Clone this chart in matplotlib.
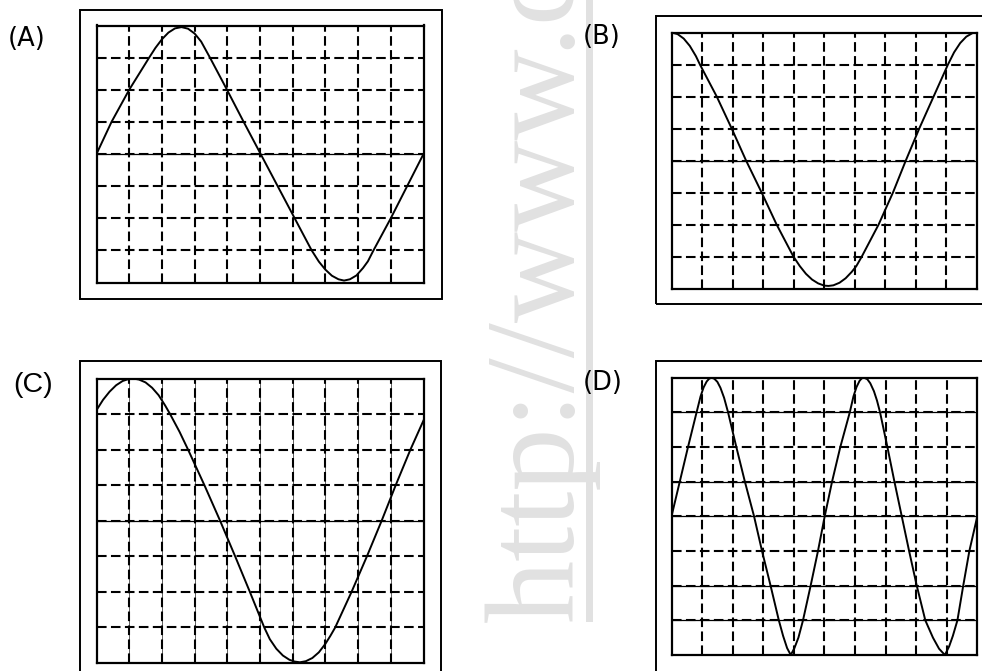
import matplotlib

matplotlib.use("Agg")
import matplotlib.pyplot as plt
from matplotlib.patches import Rectangle

W, H = 982, 671

a_x = [0, 0.46, 1.0, 1.61, 1.8, 2.0, 2.2, 2.4, 2.6, 2.8, 3.0, 3.2, 3.47, 3.99, 4.5, 5.02,
       5.54, 6.06, 6.58, 6.8, 7.0, 7.2, 7.4, 7.57, 7.75, 7.95, 8.15, 8.3, 8.47, 9.0,
       9.5, 10]
a_y = [0, 1, 2, 3, 3.30, 3.57, 3.78, 3.91, 3.95, 3.90, 3.75, 3.50, 3.0, 2, 1, 0,
       -1, -2, -3, -3.35, -3.6, -3.79, -3.9, -3.94, -3.9, -3.78, -3.55, -3.34, -3.0, -2,
       -1, 0]

b_x = [0, 0.2, 0.4, 0.6, 0.8, 0.93, 1.48, 1.97, 2.44, 2.95, 3.44, 3.99, 4.2, 4.4, 4.6,
       4.8, 5.0, 5.14, 5.3, 5.5, 5.7, 5.9, 6.05, 6.23, 6.78, 7.25, 7.67, 8.11, 8.58, 9.05,
       9.25, 9.45, 9.65, 9.85, 10]
b_y = [4, 3.95, 3.81, 3.58, 3.26, 3, 2, 1, 0, -1, -2, -3, -3.30, -3.54, -3.72,
       -3.84, -3.91, -3.92, -3.90, -3.82, -3.68, -3.48, -3.30, -3, -2, -1, 0, 1, 2, 3,
       3.38, 3.67, 3.87, 3.98, 4]

c_x = [0, 0.2, 0.4, 0.6, 0.8, 1.0, 1.12, 1.3, 1.5, 1.7, 1.9, 2.1, 2.25, 2.54, 2.8, 3.3,
       3.78, 4.24, 4.69, 5.13, 5.3, 5.5, 5.7, 5.9, 6.06, 6.22, 6.4, 6.6, 6.8, 7.0, 7.15,
       7.3, 7.8, 8.27, 8.72, 9.15, 9.6, 10]
c_y = [3.11, 3.40, 3.63, 3.81, 3.93, 3.99, 4.0, 3.97, 3.89, 3.74, 3.53, 3.24, 3.0, 2.5, 2, 1,
       0, -1, -2, -3, -3.33, -3.6, -3.79, -3.91, -3.96, -3.98, -3.95, -3.86, -3.7, -3.46, -3.24,
       -3, -2, -1, 0, 1, 2, 2.82]

d_x = [0, 0.27, 0.54, 0.82, 0.95, 1.05, 1.15, 1.23, 1.31, 1.4, 1.5, 1.6, 1.72, 1.85, 2.12,
       2.40, 2.70, 2.96, 3.24, 3.51, 3.65, 3.78, 3.90, 4.02, 4.15, 4.30, 4.55, 4.79, 5.01,
       5.25, 5.52, 5.83, 5.95, 6.05, 6.15, 6.22, 6.29, 6.4, 6.5, 6.62, 6.72, 6.82, 7.06,
       7.29, 7.53, 7.77, 8.02, 8.3, 8.55, 8.75, 8.94, 9.08, 9.2, 9.35, 9.54, 9.74, 10]
d_y = [0, 1, 2, 3, 3.46, 3.72, 3.89, 3.97, 4.0, 3.97, 3.88, 3.71, 3.42, 3.0, 2,
       1, 0, -1, -2, -3, -3.45, -3.8, -4.0, -3.8, -3.5, -3, -2, -1, 0,
       1, 2, 3, 3.46, 3.73, 3.91, 3.98, 4.0, 3.96, 3.84, 3.61, 3.34, 3, 2,
       1, 0, -1, -2, -3, -3.5, -3.82, -4.0, -3.75, -3.45, -3, -2, -1, 0]

labels = ["(A)", "(B)", "(C)", "(D)"]
watermark = "http://www.c"

GRID_DASH = (0, (4.6, 2.1))


def frac(left, top, right, bottom):
    """Pixel box (y measured from the top) -> figure fraction rect."""
    return [left / W, 1 - bottom / H, (right - left) / W, (bottom - top) / H]


fig = plt.figure(figsize=(W / 100, H / 100), dpi=100)

# watermark behind everything
fig.text(573 / W, 1 - 622 / H, watermark, rotation=90, rotation_mode="anchor",
         ha="left", va="baseline", fontsize=91, family="Liberation Serif",
         color="#e1e1e1", zorder=-5)
fig.add_artist(Rectangle((586 / W, 1 - 622 / H), 7 / W, 622 / H + 0.01,
                         transform=fig.transFigure, color="#e1e1e1", lw=0, zorder=-5))


def draw_panel(outer, inner, xs, ys, solid_rows=(0,), solid_cols=False):
    ox = frac(*outer)
    fig.add_artist(Rectangle((ox[0], ox[1]), ox[2], ox[3], transform=fig.transFigure,
                             fill=False, edgecolor="black", lw=1.4))
    ax = fig.add_axes(frac(*inner))
    ax.set_xlim(0, 10)
    ax.set_ylim(-4, 4)
    ax.set_xticks([])
    ax.set_yticks([])
    for v in range(1, 10):
        if solid_cols:
            ax.axvline(v, color="#444444", lw=0.6)
        ax.axvline(v, color="black", lw=1.5, ls=GRID_DASH)
    for h in range(-3, 4):
        if h in solid_rows:
            ax.axhline(h, color="black", lw=0.9)
        ax.axhline(h, color="black", lw=1.5, ls=GRID_DASH)
    ax.plot(xs, ys, color="black", lw=1.4, solid_joinstyle="round")
    for s in ax.spines.values():
        s.set_linewidth(1.6)
    return ax


draw_panel((80, 10, 442, 299), (96.5, 25.5, 423.5, 282.5), a_x, a_y)
draw_panel((656, 16, 1000, 304), (671.5, 32.5, 977, 288.5), b_x, b_y)
draw_panel((80, 361, 441, 700), (96.5, 378.5, 423.5, 663), c_x, c_y, solid_cols=True)
draw_panel((656, 361, 1000, 700), (671.5, 377.7, 977.3, 655), d_x, d_y,
           solid_rows=(3, 1, 0, -2, -3))

fig.text(8 / W, 1 - 38.5 / H, labels[0], fontsize=18.5, family="DejaVu Sans",
         ha="left", va="center")
fig.text(583 / W, 1 - 36.5 / H, labels[1], fontsize=18.5, family="DejaVu Sans",
         ha="left", va="center")
fig.text(13 / W, 1 - 385 / H, labels[2], fontsize=20.5, family="Liberation Sans",
         ha="left", va="center")
fig.text(583 / W, 1 - 383 / H, labels[3], fontsize=18.5, family="DejaVu Sans",
         ha="left", va="center")

fig.savefig("out.png", dpi=100)
